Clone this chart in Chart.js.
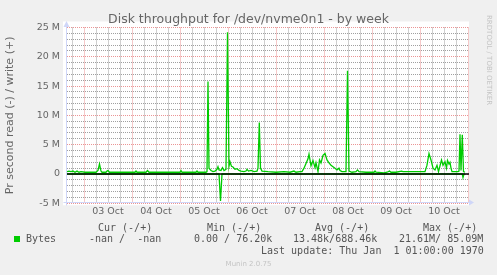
<!DOCTYPE html>
<html>
<head>
<meta charset="utf-8">
<title>Disk throughput for /dev/nvme0n1 - by week</title>
<script src="https://cdn.jsdelivr.net/npm/chart.js@4/dist/chart.umd.min.js"></script>
<style>
  html, body { margin: 0; padding: 0; background: #f0f0f0; }
  #wrap { position: relative; width: 497px; height: 275px; overflow: hidden; }
  #wrap canvas { position: absolute; left: 0; top: 0; }
  .lg { position: absolute; white-space: pre; font: 10px "DejaVu Sans Mono", monospace; color: #555; line-height: 12px; }
  .wm { position: absolute; white-space: pre; font: 7px "DejaVu Sans", sans-serif; color: #c4c4c4; line-height: 8px; }
  .sw { position: absolute; left: 14px; top: 236px; width: 6px; height: 6px; background: #00cc00; }
</style>
</head>
<body>
<div id="wrap">
  <canvas id="myChart" width="497" height="275"></canvas>
  <div class="wm" style="left:485px; top:15px; writing-mode: vertical-rl;">RRDTOOL / TOBI OETIKER</div>
  <div class="lg" style="left:98px; top:222px;">Cur (-/+)</div>
  <div class="lg" style="left:207px; top:222px;">Min (-/+)</div>
  <div class="lg" style="left:315px; top:222px;">Avg (-/+)</div>
  <div class="lg" style="left:423px; top:222px;">Max (-/+)</div>
  <div class="sw"></div>
  <div class="lg" style="left:26px; top:233px;">Bytes</div>
  <div class="lg" style="left:89px; top:233px;">-nan /  -nan</div>
  <div class="lg" style="left:194px; top:233px;">0.00 / 76.20k</div>
  <div class="lg" style="left:293px; top:233px;">13.48k/688.46k</div>
  <div class="lg" style="left:399px; top:233px;">21.61M/ 85.09M</div>
  <div class="lg" style="left:261px; top:245px;">Last update: Thu Jan  1 01:00:00 1970</div>
  <div class="wm" style="left:0; width:497px; text-align:center; top:260px;">Munin 2.0.75</div>
</div>
<script>
// hours counted from 03 Oct 00:00, values in M bytes per second
var writeHours = [-8.5, -7.5, -6.5, -5.5, -4.5, -3.5, -2.5, -1.5, 0.5, 3, 6, 7, 7.75, 8.5, 9, 11, 11.5, 12, 12.75, 15.5,
    20.5, 25.5, 26, 26.5, 31, 31.75, 32.5, 38, 43, 48, 48.5, 49, 53, 56, 56.5, 57, 61, 61.5, 62, 62.5,
    63.5, 64.5, 65.5, 66.5, 67, 67.5, 68.5, 69.25, 70, 71, 71.75, 72.5, 73, 73.75, 74.5, 75.5, 76.5, 77.5, 78.5, 80,
    81, 81.5, 82.25, 83.5, 85, 86.5, 87, 87.65, 88.25, 89, 92, 96, 100, 103, 105, 106, 108, 109, 110, 111,
    112, 112.5, 113.5, 114.5, 115.5, 116, 117, 117.75, 118.5, 119.5, 120.5, 121.5, 122.5, 123.5, 124.5, 125.5, 126.5, 127.5, 128, 129,
    131, 131.75, 132.5, 134, 136, 136.75, 137.5, 141, 145, 145.5, 146, 150, 151.5, 152.75, 153.5, 156, 158.75, 159.5, 163, 167,
    170.5, 171.5, 172.5, 173.5, 174.5, 175.5, 176.5, 177.25, 178.75, 179.5, 180.5, 181.25, 181.75, 182.5, 183, 183.5, 184, 187, 187.5, 188,
    188.5, 189.15, 189.75, 190.5];
var writeValues = [0.4, 0.5, 0.4, 0.5, 0.3, 0.5, 0.3, 0.4, 0.3, 0.3, 0.3, 0.6, 1.7, 0.5, 0.3, 0.3, 0.5, 0.6, 0.3, 0.3,
    0.3, 0.3, 0.5, 0.3, 0.3, 0.6, 0.3, 0.3, 0.3, 0.3, 0.6, 0.3, 0.3, 0.3, 0.5, 0.3, 0.3, 0.4, 15.8, 1.0,
    0.6, 0.4, 0.5, 0.8, 1.25, 0.7, 0.6, 1.1, 0.6, 0.8, 24.2, 1.3, 2.1, 1.3, 1.2, 0.8, 0.9, 0.6, 0.5, 0.4,
    0.5, 0.8, 0.5, 0.6, 0.4, 0.5, 1.0, 8.8, 1.0, 0.5, 0.4, 0.3, 0.4, 0.3, 0.5, 0.3, 0.4, 0.4, 1.0, 1.8,
    2.6, 3.4, 1.4, 2.3, 1.1, 1.9, 0.4, 2.4, 1.9, 3.2, 3.5, 2.4, 1.9, 1.5, 1.25, 1.0, 0.7, 1.0, 0.6, 0.4,
    0.4, 17.6, 0.5, 0.3, 0.4, 0.7, 0.4, 0.3, 0.3, 0.5, 0.3, 0.2, 0.3, 0.5, 0.3, 0.3, 0.5, 0.4, 0.4, 0.4,
    0.4, 1.5, 3.5, 2.4, 1.0, 0.7, 1.5, 0.4, 2.4, 1.5, 2.1, 1.0, 2.3, 1.7, 2.0, 1.0, 0.4, 0.4, 0.5, 6.8,
    0.6, 6.7, 0.4, 0.3];
var readHours = [-8.5, 67.5, 68.25, 69, 189.15, 189.5, 190, 190.5];
var readValues = [0, 0, -4.6, 0, 0, -0.6, 0, 0];

var dayLabels = ['03 Oct', '04 Oct', '05 Oct', '06 Oct', '07 Oct', '08 Oct', '09 Oct', '10 Oct'];
var yTickValues = [-5, 0, 5, 10, 15, 20, 25];
var yTickLabels = ['-5 M', '0', '5 M', '10 M', '15 M', '20 M', '25 M'];

function points(hours, values) {
    return hours.map(function (h, i) { return { x: h, y: values[i] }; });
}

var axisColor = '#cfd6f8';
var majorGrid = 'rgba(222, 79, 79, 0.6)';
var minorGrid = 'rgba(143, 143, 143, 0.85)';

// canvas, zero rule and the two axis arrows, munin style
var muninFrame = {
    id: 'muninFrame',
    beforeDraw: function (chart) {
        var ctx = chart.ctx, a = chart.chartArea;
        ctx.save();
        ctx.fillStyle = '#ffffff';
        ctx.fillRect(a.left - 4, a.top - 6, a.right - a.left + 4, a.bottom - a.top + 8);
        ctx.restore();
    },
    afterDatasetsDraw: function (chart) {
        var ctx = chart.ctx, a = chart.chartArea;
        var y0 = chart.scales.y.getPixelForValue(0);
        ctx.save();
        ctx.strokeStyle = '#000000';
        ctx.lineWidth = 1.6;
        ctx.beginPath();
        ctx.moveTo(a.left, y0);
        ctx.lineTo(a.right, y0);
        ctx.stroke();

        var left = Math.round(a.left) - 0.5, bottom = Math.round(a.bottom) - 0.5;
        ctx.strokeStyle = axisColor;
        ctx.fillStyle = axisColor;
        ctx.lineWidth = 1;
        ctx.beginPath();
        ctx.moveTo(left - 3, bottom);
        ctx.lineTo(a.right, bottom);
        ctx.moveTo(left, bottom + 3);
        ctx.lineTo(left, a.top - 1);
        ctx.stroke();
        ctx.beginPath();
        ctx.moveTo(a.right, bottom - 3);
        ctx.lineTo(a.right + 5, bottom);
        ctx.lineTo(a.right, bottom + 3);
        ctx.fill();
        ctx.beginPath();
        ctx.moveTo(left - 3, a.top - 0.5);
        ctx.lineTo(left, a.top - 6.5);
        ctx.lineTo(left + 3, a.top - 0.5);
        ctx.fill();
        ctx.restore();
    }
};

var ctx = document.getElementById('myChart').getContext('2d');
var myChart = new Chart(ctx, {
    type: 'line',
    data: {
        datasets: [{
            label: 'Bytes read',
            data: points(readHours, readValues),
            borderColor: '#00cc00',
            borderWidth: 1.3,
            pointRadius: 0,
            fill: false
        }, {
            label: 'Bytes',
            data: points(writeHours, writeValues),
            borderColor: '#00cc00',
            borderWidth: 1.3,
            pointRadius: 0,
            fill: false
        }]
    },
    options: {
        responsive: false,
        animation: false,
        devicePixelRatio: 1,
        layout: { padding: 0 },
        plugins: {
            legend: { display: false },
            tooltip: { enabled: false },
            title: {
                display: true,
                text: 'Disk throughput for /dev/nvme0n1 - by week',
                color: '#666666',
                font: { family: 'DejaVu Sans', size: 12.5, weight: 'normal' },
                padding: { top: 12, bottom: 0.5 }
            }
        },
        scales: {
            x: {
                type: 'linear',
                min: -8.5,
                max: 192.5,
                afterBuildTicks: function (scale) {
                    var t = [];
                    for (var h = -6; h <= 192; h += 6) t.push({ value: h });
                    scale.ticks = t;
                },
                afterFit: function (scale) { scale.height = 71.7; },
                grid: {
                    drawTicks: false,
                    lineWidth: 1,
                    color: function (c) {
                        return c.tick && c.tick.value % 24 === 0 ? majorGrid : minorGrid;
                    }
                },
                border: { display: false, dash: [1, 1] },
                ticks: {
                    autoSkip: false,
                    maxRotation: 0,
                    padding: 3,
                    color: '#666666',
                    font: { family: 'DejaVu Sans', size: 9.5 },
                    callback: function (v) {
                        var d = (v - 12) / 24;
                        return d >= 0 && d % 1 === 0 && dayLabels[d] ? dayLabels[d] : '';
                    }
                }
            },
            y: {
                min: -5,
                max: 25,
                afterBuildTicks: function (scale) {
                    var t = [];
                    for (var v = -5; v <= 25; v++) t.push({ value: v });
                    scale.ticks = t;
                },
                afterFit: function (scale) { scale.width = 67; },
                grid: {
                    drawTicks: false,
                    lineWidth: 1,
                    color: function (c) {
                        return c.tick && c.tick.value % 5 === 0 ? majorGrid : minorGrid;
                    }
                },
                border: { display: false, dash: [1, 1] },
                title: {
                    display: true,
                    text: 'Pr second read (-) / write (+)',
                    color: '#666666',
                    font: { family: 'DejaVu Sans', size: 11 },
                    padding: { top: 4, bottom: 0 }
                },
                ticks: {
                    autoSkip: false,
                    padding: 7,
                    color: '#666666',
                    font: { family: 'DejaVu Sans', size: 9.5 },
                    callback: function (v) {
                        var i = yTickValues.indexOf(v);
                        return i >= 0 ? yTickLabels[i] : '';
                    }
                }
            },
            // empty strip on the right, keeps the plot clear of the watermark
            side: {
                position: 'right',
                min: -5,
                max: 25,
                grid: { display: false },
                border: { display: false },
                ticks: { display: false },
                afterFit: function (scale) { scale.width = 28; }
            }
        }
    },
    plugins: [muninFrame]
});
</script>
</body>
</html>
